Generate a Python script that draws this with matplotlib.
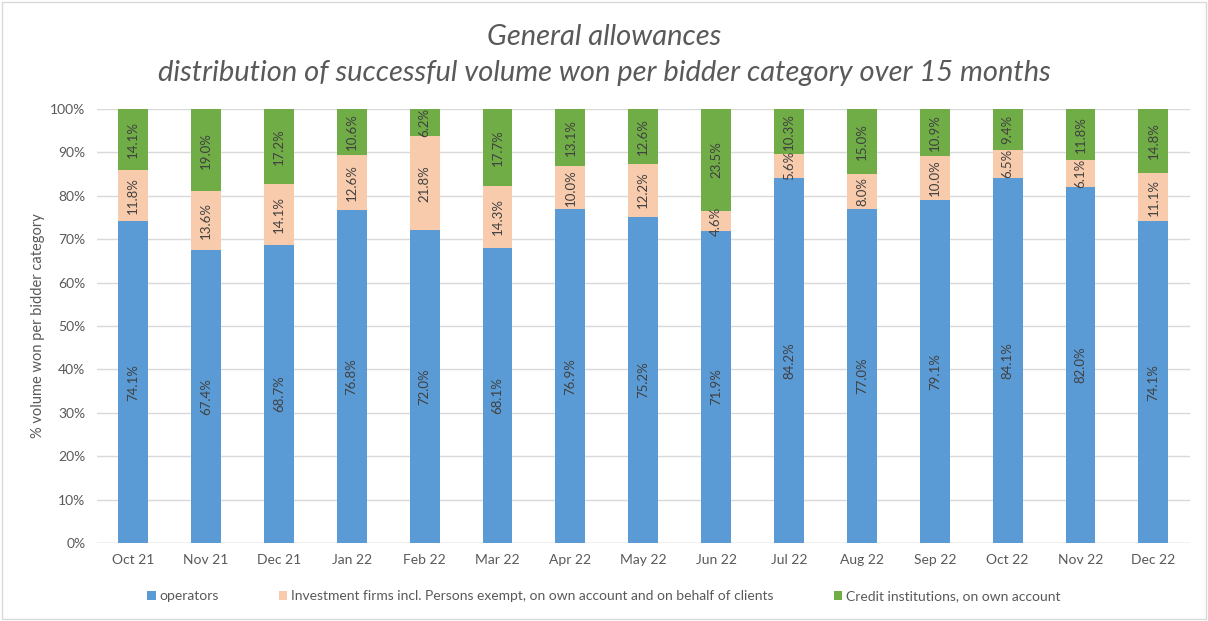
import numpy as np
import matplotlib.pyplot as plt
from matplotlib.patches import Rectangle

months = ['Oct 21', 'Nov 21', 'Dec 21', 'Jan 22', 'Feb 22', 'Mar 22', 'Apr 22', 'May 22',
          'Jun 22', 'Jul 22', 'Aug 22', 'Sep 22', 'Oct 22', 'Nov 22', 'Dec 22']
operators = [74.1, 67.4, 68.7, 76.8, 72.0, 68.1, 76.9, 75.2, 71.9, 84.2, 77.0, 79.1, 84.1, 82.0, 74.1]
investment = [11.8, 13.6, 14.1, 12.6, 21.8, 14.3, 10.0, 12.2, 4.6, 5.6, 8.0, 10.0, 6.5, 6.1, 11.1]
credit = [14.1, 19.0, 17.2, 10.6, 6.2, 17.7, 13.1, 12.6, 23.5, 10.3, 15.0, 10.9, 9.4, 11.8, 14.8]

series = [
    ('operators', operators, '#5B9BD5'),
    ('Investment firms incl. Persons exempt, on own account and on behalf of clients', investment, '#F8CBAD'),
    ('Credit institutions, on own account', credit, '#70AD47'),
]

plt.rcParams['font.family'] = ['Lato', 'DejaVu Sans']

fig = plt.figure(figsize=(12.08, 6.21), dpi=100)
ax = fig.add_axes([0.080, 0.1256, 0.905, 0.699])

x = np.arange(len(months))
total = np.array(operators) + np.array(investment) + np.array(credit)
bottom = np.zeros(len(months))
for name, vals, col in series:
    share = np.array(vals) / total
    ax.bar(x, share, 0.41, bottom=bottom, color=col, label=name, zorder=3)
    for xi, b, s, v in zip(x, bottom, share, vals):
        ax.text(xi, b + s / 2, f'{v:.1f}%', rotation=90, ha='center', va='center',
                fontsize=9.5, color='#404040', zorder=4)
    bottom += share

ax.set_xlim(-0.5, len(months) - 0.5)
ax.set_ylim(0, 1)
ax.set_yticks(np.linspace(0, 1, 11))
ax.set_yticklabels([f'{int(t)}%' for t in np.linspace(0, 100, 11)])
ax.set_xticks(x)
ax.set_xticklabels(months)
ax.tick_params(length=0, labelsize=10, colors='#595959', pad=8)
ax.grid(axis='y', color='#D9D9D9', linewidth=1, zorder=0)
for s in ax.spines.values():
    s.set_visible(False)
ax.axhline(0, color='#D9D9D9', linewidth=1, zorder=2)

ax.set_ylabel('% volume won per bidder category', fontsize=10.5, color='#595959', labelpad=4)

fig.text(0.5, 0.940, 'General allowances', ha='center', va='center',
         fontsize=21, style='italic', color='#595959')
fig.text(0.5, 0.882, 'distribution of successful volume won per bidder category over 15 months',
         ha='center', va='center', fontsize=21, style='italic', color='#595959')

leg = fig.legend(loc='center', bbox_to_anchor=(0.5, 0.04), ncol=3, frameon=False,
                 fontsize=10, handlelength=0.6, handleheight=0.6, handletextpad=0.3,
                 columnspacing=4.3, labelcolor='#595959')

fig.patches.append(Rectangle((0.002, 0.003), 0.996, 0.994, transform=fig.transFigure,
                             fill=False, edgecolor='#D9D9D9', linewidth=1))

fig.savefig('out.png', dpi=100)
